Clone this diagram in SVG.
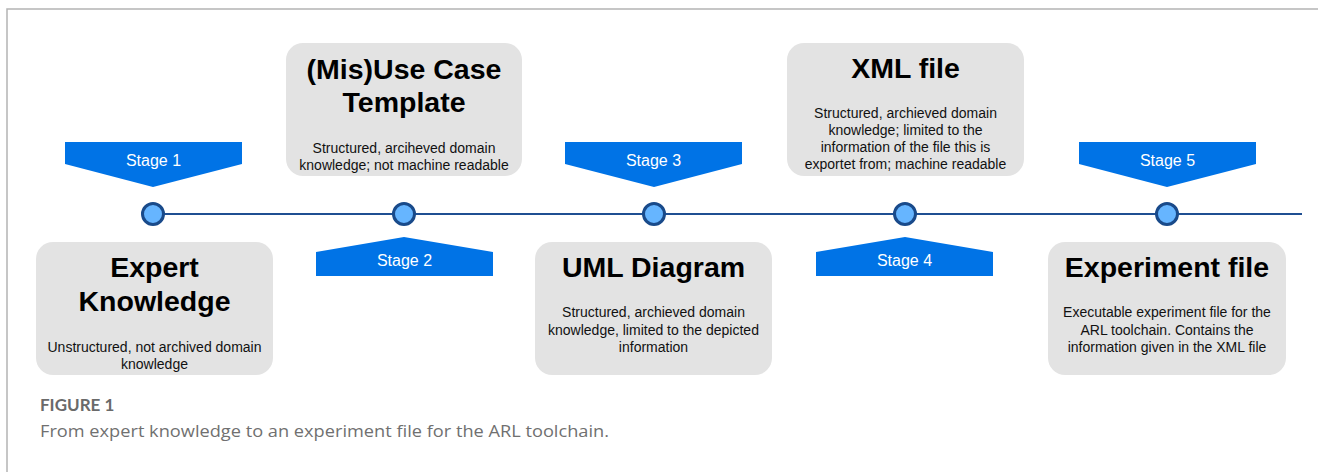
<svg xmlns="http://www.w3.org/2000/svg" width="1318" height="472" viewBox="0 0 1318 472">
  <style>
    .frame { fill: none; stroke: #b4b4b4; stroke-width: 1.5; }
    .box { fill: #e3e3e3; }
    .title { font-family: "Liberation Sans", Arial, sans-serif; font-weight: bold; font-size: 28.5px; fill: #000; text-anchor: middle; }
    .desc { font-family: "Liberation Sans", Arial, sans-serif; font-size: 14px; fill: #111; text-anchor: middle; }
    .tag { fill: #0073e6; }
    .tagtext { font-family: "Liberation Sans", Arial, sans-serif; font-size: 16px; fill: #fff; text-anchor: middle; }
    .axis { stroke: #1f4f92; stroke-width: 2; fill: none; }
    .dot { fill: #66b5ff; stroke: #194a8a; stroke-width: 3; }
    .caphead { font-family: Lato, "Open Sans", sans-serif; font-size: 17px; font-weight: bold; fill: #6a6a6a; }
    .captext { font-family: "Open Sans", Lato, sans-serif; font-size: 17px; fill: #707070; }
  </style>

  <rect width="1318" height="472" fill="#fff"/>
  <path class="frame" d="M7,472 V9 H1318"/>

  <!-- timeline -->
  <g id="connectors">
    <line class="axis" x1="153" y1="214" x2="1302" y2="214"/>
  </g>

  <!-- stage markers -->
  <g id="stage1">
    <polygon class="tag" points="65,142 242,142 242,164 153,187 65,164"/>
    <text class="tagtext" x="153.5" y="166">Stage 1</text>
  </g>
  <g id="stage2">
    <polygon class="tag" points="316,276 493,276 493,252 404,237 316,252"/>
    <text class="tagtext" x="404.5" y="266">Stage 2</text>
  </g>
  <g id="stage3">
    <polygon class="tag" points="565,142 742,142 742,164 654,187 565,164"/>
    <text class="tagtext" x="653.5" y="166">Stage 3</text>
  </g>
  <g id="stage4">
    <polygon class="tag" points="816,276 993,276 993,252 905,237 816,252"/>
    <text class="tagtext" x="904.5" y="266">Stage 4</text>
  </g>
  <g id="stage5">
    <polygon class="tag" points="1079,142 1256,142 1256,164 1167,187 1079,164"/>
    <text class="tagtext" x="1167.5" y="166">Stage 5</text>
  </g>

  <!-- points on the timeline -->
  <g id="points">
    <circle class="dot" cx="153" cy="214" r="10.5"/>
    <circle class="dot" cx="404" cy="214" r="10.5"/>
    <circle class="dot" cx="654" cy="214" r="10.5"/>
    <circle class="dot" cx="905" cy="214" r="10.5"/>
    <circle class="dot" cx="1167" cy="214" r="10.5"/>
  </g>

  <!-- artefact boxes -->
  <g id="expert-knowledge">
    <rect class="box" x="36" y="242" width="237" height="133" rx="17"/>
    <text class="title" x="154.5" y="277">Expert</text>
    <text class="title" x="154.5" y="311">Knowledge</text>
    <text class="desc" x="154.5" y="352">Unstructured, not archived domain</text>
    <text class="desc" x="154.5" y="369">knowledge</text>
  </g>
  <g id="misuse-case-template">
    <rect class="box" x="286" y="43" width="236" height="133" rx="17"/>
    <text class="title" x="404" y="79">(Mis)Use Case</text>
    <text class="title" x="404" y="112">Template</text>
    <text class="desc" x="404" y="153">Structured, arciheved domain</text>
    <text class="desc" x="404" y="170">knowledge; not machine readable</text>
  </g>
  <g id="uml-diagram">
    <rect class="box" x="535" y="242" width="237" height="133" rx="17"/>
    <text class="title" x="653.5" y="277">UML Diagram</text>
    <text class="desc" x="653.5" y="317">Structured, archieved domain</text>
    <text class="desc" x="653.5" y="335">knowledge, limited to the depicted</text>
    <text class="desc" x="653.5" y="352">information</text>
  </g>
  <g id="xml-file">
    <rect class="box" x="787" y="43" width="237" height="133" rx="17"/>
    <text class="title" x="905.5" y="78">XML file</text>
    <text class="desc" x="905.5" y="118">Structured, archieved domain</text>
    <text class="desc" x="905.5" y="135">knowledge; limited to the</text>
    <text class="desc" x="905.5" y="152">information of the file this is</text>
    <text class="desc" x="905.5" y="169">exportet from; machine readable</text>
  </g>
  <g id="experiment-file">
    <rect class="box" x="1048" y="242" width="238" height="133" rx="17"/>
    <text class="title" x="1167" y="277">Experiment file</text>
    <text class="desc" x="1167" y="317">Executable experiment file for the</text>
    <text class="desc" x="1167" y="335">ARL toolchain. Contains the</text>
    <text class="desc" x="1167" y="352">information given in the XML file</text>
  </g>

  <!-- caption -->
  <g id="caption">
    <text class="caphead" x="40" y="411">FIGURE 1</text>
    <text class="captext" x="40" y="437" textLength="569" lengthAdjust="spacingAndGlyphs">From expert knowledge to an experiment file for the ARL toolchain.</text>
  </g>
</svg>
